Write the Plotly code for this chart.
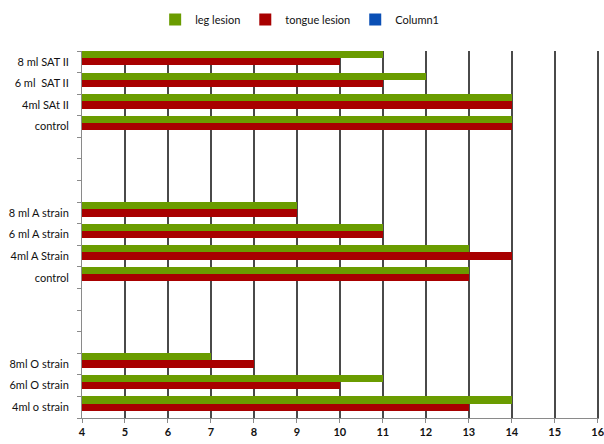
import plotly.graph_objects as go

categories = ["8 ml SAT II", "6 ml  SAT II", "4ml SAt II", "control", "", "", "",
              "8 ml A strain", "6 ml A strain", "4ml A Strain", "control", "", "", "",
              "8ml O strain", "6ml O strain", "4ml o strain"]
leg_lesion = [11, 12, 14, 14, None, None, None, 9, 11, 13, 13, None, None, None, 7, 11, 14]
tongue_lesion = [10, 11, 14, 14, None, None, None, 9, 11, 14, 13, None, None, None, 8, 10, 13]
column1 = [None] * len(categories)
x_ticks = list(range(4, 17))

ypos = list(range(len(categories)))

fig = go.Figure()
fig.add_trace(go.Bar(y=ypos, x=leg_lesion, orientation="h", name="leg lesion",
                     marker=dict(color="#6a9c00", line=dict(width=0))))
fig.add_trace(go.Bar(y=ypos, x=tongue_lesion, orientation="h", name="tongue lesion",
                     marker=dict(color="#a80000", line=dict(width=0))))
fig.add_trace(go.Bar(y=ypos, x=column1, orientation="h", name="Column1",
                     marker=dict(color="#0a4fb5", line=dict(width=0))))

fig.update_layout(
    width=604, height=444,
    margin=dict(l=82, r=5, t=47, b=26),
    paper_bgcolor="white", plot_bgcolor="white",
    barmode="group", bargap=0.0, bargroupgap=0.0,
    font=dict(family="Lato, Open Sans, sans-serif", size=11, color="#111"),
    showlegend=True,
    legend=dict(orientation="h", x=0.421, xanchor="center", y=1.086, yanchor="middle",
                font=dict(size=11, color="#111"), itemwidth=30, traceorder="normal",
                tracegroupgap=0, itemclick=False),
    xaxis=dict(range=[4, 16.03], tickvals=x_ticks, ticktext=[str(v) for v in x_ticks],
               showgrid=True, gridcolor="#4a4a4a", gridwidth=2,
               showline=True, linecolor="#8a8a8a", linewidth=1,
               ticks="outside", ticklen=4, tickcolor="#8a8a8a",
               ticklabeloverflow="allow", automargin=False,
               tickfont=dict(size=11, color="#111", family="Lato, sans-serif", weight="bold"),
               zeroline=False, fixedrange=True),
    yaxis=dict(range=[len(categories) - 0.5, -0.5], tickvals=ypos, ticktext=categories,
               showgrid=False, showline=True, linecolor="#8a8a8a", linewidth=1,
               ticks="", ticklabelstandoff=10, automargin=False,
               minor=dict(ticks="outside", ticklen=4, tickcolor="#8a8a8a", tick0=0.5, dtick=1, showgrid=False),
               tickfont=dict(size=11, color="#111"),
               zeroline=False, fixedrange=True),
)

fig.write_html("out.html")
